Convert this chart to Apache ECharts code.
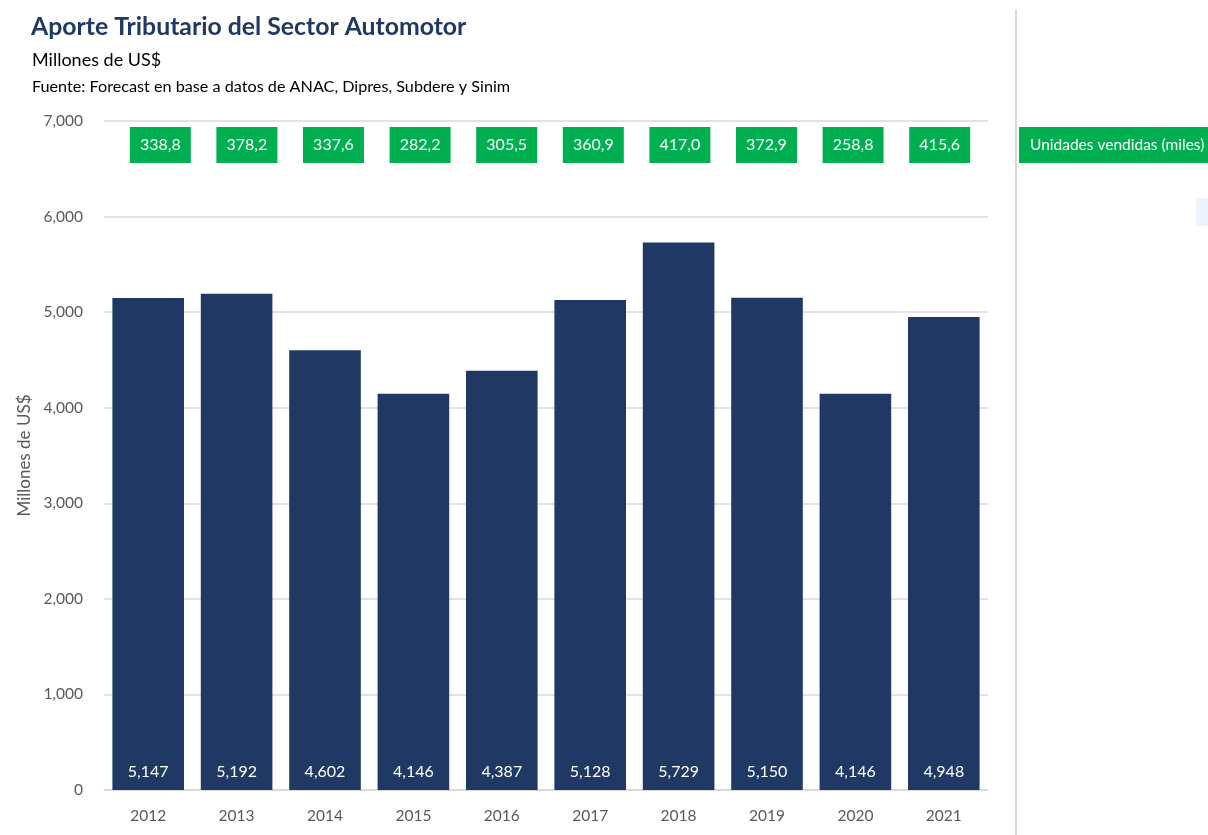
<!DOCTYPE html>
<html>
<head>
<meta charset="utf-8">
<script src="https://cdn.jsdelivr.net/npm/echarts@6/dist/echarts.min.js"></script>
<style>
  html, body { margin: 0; padding: 0; background: #fff; }
  #main { width: 1208px; height: 835px; }
</style>
</head>
<body>
<div id="main"></div>
<script>
// años
var years = ['2012', '2013', '2014', '2015', '2016', '2017', '2018', '2019', '2020', '2021'];
// aporte tributario, millones de US$
var aporte = [5147, 5192, 4602, 4146, 4387, 5128, 5729, 5150, 4146, 4948];
// unidades vendidas (miles)
var unidades = [338.8, 378.2, 337.6, 282.2, 305.5, 360.9, 417.0, 372.9, 258.8, 415.6];
var yTicks = [0, 1000, 2000, 3000, 4000, 5000, 6000, 7000];

var font = 'Lato';
var chart = echarts.init(document.getElementById('main'));

chart.setOption({
    backgroundColor: '#ffffff',
    animation: false,
    title: [
        { text: 'Aporte Tributario del Sector Automotor', left: 26, top: 10,
          textStyle: { fontFamily: font, fontSize: 24.8, fontWeight: 'bold', color: '#1f3864' } },
        { text: 'Millones de US$', left: 27, top: 46,
          textStyle: { fontFamily: font, fontSize: 18, fontWeight: 'normal', color: '#000' } },
        { text: 'Fuente: Forecast en base a datos de ANAC, Dipres, Subdere y Sinim', left: 27, top: 74,
          textStyle: { fontFamily: font, fontSize: 16.2, fontWeight: 'normal', color: '#000' } }
    ],
    grid: [
        { left: 104, right: 220, top: 121, bottom: 45 },
        // fila de unidades vendidas, algo desplazada respecto a las barras
        { left: 117, right: 225, top: 121, bottom: 45 }
    ],
    xAxis: [
        {
            type: 'category',
            gridIndex: 0,
            data: years,
            axisLine: { lineStyle: { color: '#d9d9d9', width: 1.5 } },
            axisTick: { show: false },
            axisLabel: { fontFamily: font, fontSize: 15.5, color: '#595959', margin: 18 }
        },
        {
            type: 'category',
            gridIndex: 1,
            position: 'top',
            data: unidades.map(function (v) { return v.toFixed(1).replace('.', ','); }),
            axisLine: { show: false },
            axisTick: { show: false },
            axisLabel: {
                inside: true, margin: 6,
                fontFamily: font, fontSize: 16, color: '#fff',
                backgroundColor: '#00b050',
                width: 61, align: 'center', lineHeight: 36, verticalAlign: 'top'
            }
        }
    ],
    yAxis: [
        {
            type: 'value',
            gridIndex: 0,
            min: 0, max: 7000, interval: 1000,
            name: 'Millones de US$',
            nameLocation: 'middle',
            nameGap: 60,
            nameTextStyle: { fontFamily: font, fontSize: 17, color: '#595959' },
            axisLine: { show: false },
            axisTick: { show: false },
            splitLine: { lineStyle: { color: '#d9d9d9', width: 1.5 } },
            axisLabel: {
                fontFamily: font, fontSize: 15.5, color: '#595959', margin: 21,
                formatter: function (v) { return yTicks.indexOf(v) >= 0 ? v.toLocaleString('en-US') : ''; }
            }
        },
        { type: 'value', gridIndex: 1, show: false, min: 0, max: 7000 }
    ],
    series: [
        {
            name: 'Aporte',
            type: 'bar',
            xAxisIndex: 0, yAxisIndex: 0,
            data: aporte,
            barCategoryGap: '19%',
            itemStyle: { color: '#1f3864' },
            label: {
                show: true, position: 'insideBottom', distance: 10,
                fontFamily: font, fontSize: 16, color: '#fff',
                formatter: function (p) { return p.value.toLocaleString('en-US'); }
            }
        }
    ],
    graphic: [
        { type: 'line', shape: { x1: 1016, y1: 10, x2: 1016, y2: 835 },
          style: { stroke: '#d9d9d9', lineWidth: 2 } },
        { type: 'rect', shape: { x: 1019, y: 127, width: 189, height: 36 },
          style: { fill: '#00b050' } },
        { type: 'text', x: 1030, y: 145,
          style: { text: 'Unidades vendidas (miles)', fill: '#fff', font: '15.5px Lato', verticalAlign: 'middle' } },
        { type: 'rect', shape: { x: 1196, y: 198, width: 12, height: 28 },
          style: { fill: '#eef4fb' } }
    ]
});
</script>
</body>
</html>
